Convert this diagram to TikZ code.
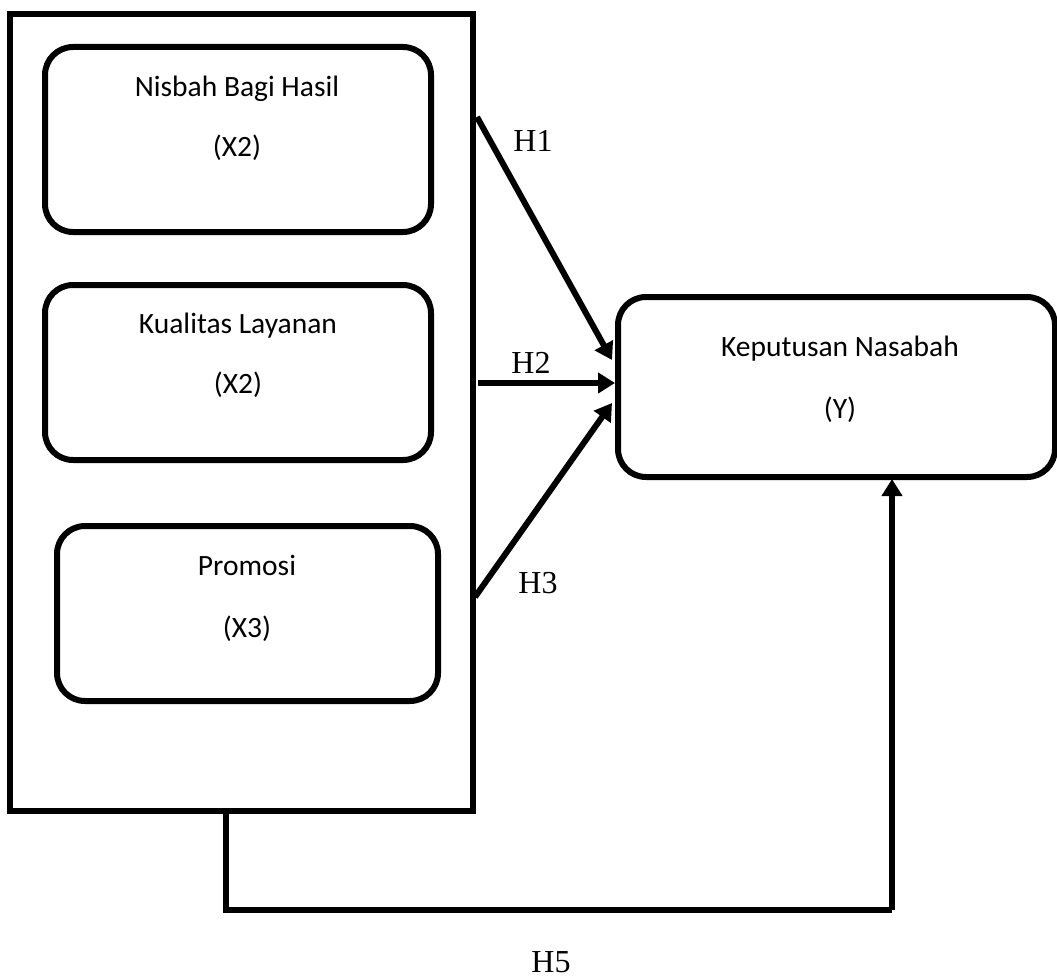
\documentclass[tikz,border=0pt]{standalone}
\usepackage{fontspec}
\setmainfont{Carlito}
\newfontfamily\tnr{Liberation Serif}
\usetikzlibrary{arrows.meta}
\tikzset{
  x=1pt, y=-1pt,
  rbox/.style={draw=black, line width=6pt, rounded corners=28pt, inner sep=0pt, fill=white},
  frame/.style={draw=black, line width=6pt, inner sep=0pt},
  btxt/.style={anchor=base, inner sep=0pt, font=\fontsize{29.5pt}{34pt}\selectfont},
  htxt/.style={anchor=base, inner sep=0pt, font=\tnr\fontsize{32pt}{36pt}\selectfont},
  arr/.style={line width=6pt, -{Triangle[length=17pt,width=20pt]}},
  conn/.style={line width=6pt, line join=miter}
}
\begin{document}
\begin{tikzpicture}
\useasboundingbox (0,0) rectangle (1057,979);
\fill[white] (0,0) rectangle (1057,979);
% outer frame
\node[frame, minimum width=463pt, minimum height=797pt] (outer) at (241.5,412.5) {};
% left boxes
\node[rbox, minimum width=386pt, minimum height=185pt] (x1) at (238,139.5) {};
\node[rbox, minimum width=386pt, minimum height=175pt] (x2) at (238,372.5) {};
\node[rbox, minimum width=381pt, minimum height=175pt] (x3) at (247.5,613.5) {};
% right box
\node[rbox, minimum width=437pt, minimum height=180pt] (y) at (836.5,387) {};
% texts
\node[btxt] (x1a) at (237,97) {Nisbah Bagi Hasil};
\node[btxt] (x1b) at (237,157) {(X2)};
\node[btxt] (x2a) at (238,333) {Kualitas Layanan};
\node[btxt] (x2b) at (238,393) {(X2)};
\node[btxt] (x3a) at (247,575) {Promosi};
\node[btxt] (x3b) at (247,637) {(X3)};
\node[btxt] (ya) at (840,356) {Keputusan Nasabah};
\node[btxt] (yb) at (840,418) {(Y)};
% connector coordinates
\coordinate (h1s) at (477,117);
\coordinate (h1e) at (612,360);
\coordinate (h2s) at (478,383);
\coordinate (h2e) at (615,383);
\coordinate (h3s) at (475,597);
\coordinate (h3e) at (612,403);
\coordinate (h5a) at (226,811);
\coordinate (h5b) at (226,910);
\coordinate (h5c) at (892,910);
\coordinate (h5d) at (892,479);
\draw[arr] (h1s) -- (h1e);
\draw[arr] (h2s) -- (h2e);
\draw[arr] (h3s) -- (h3e);
\draw[conn] (h5a) -- (h5b) -- (h5c);
\draw[arr] (h5c) -- (h5d);
% labels
\node[htxt] (l1) at (533,151) {H1};
\node[htxt] (l2) at (531,373) {H2};
\node[htxt] (l3) at (538,593) {H3};
\node[htxt] (l5) at (551,972) {H5};
\end{tikzpicture}
\end{document}
